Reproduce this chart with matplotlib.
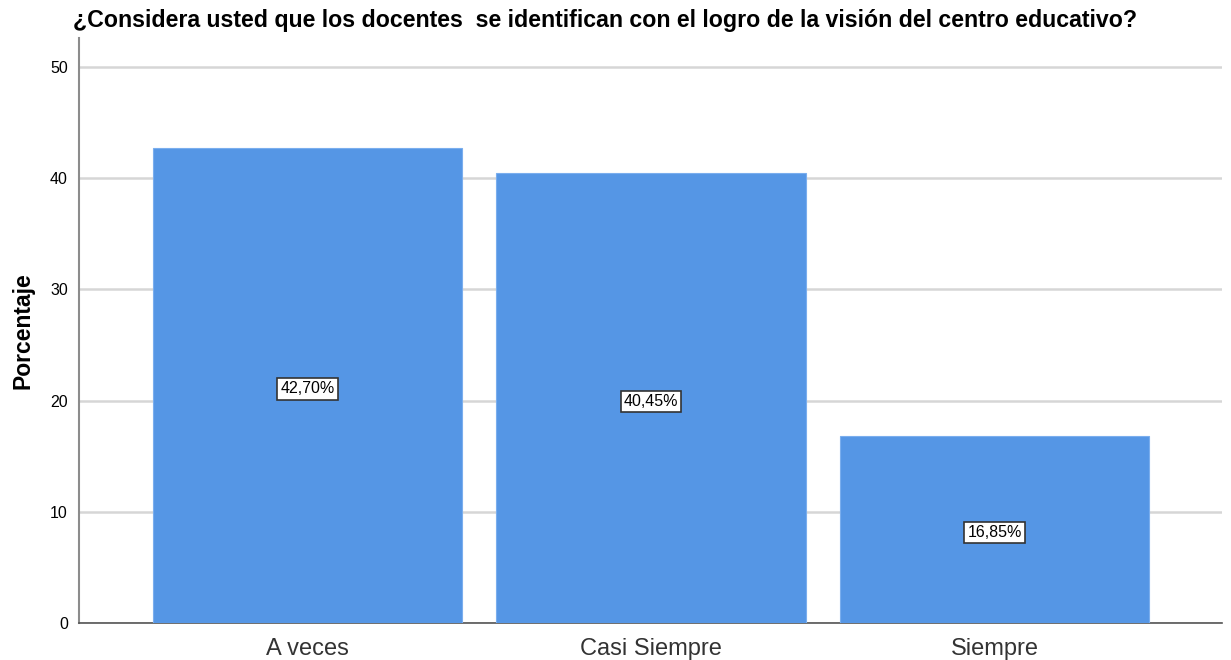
import matplotlib.pyplot as plt

plt.rcParams['font.family'] = ['Liberation Sans', 'DejaVu Sans']

categorias = ['A veces', 'Casi Siempre', 'Siempre']
porcentajes = [42.70, 40.45, 16.85]
etiquetas = ['42,70%', '40,45%', '16,85%']
yticks = [0, 10, 20, 30, 40, 50]

fig = plt.figure(figsize=(12.31, 6.6), dpi=100)
ax = fig.add_axes([79 / 1231, 1 - 623 / 660, (1222 - 79) / 1231, (623 - 38) / 660])

x = list(range(len(categorias)))
ax.bar(x, porcentajes, width=0.9, color='#5596e5', edgecolor='#7aaeee', linewidth=0.8, zorder=3)

for xi, v, lab in zip(x, porcentajes, etiquetas):
    ax.text(xi, v / 2 - 0.3, lab, ha='center', va='center', fontsize=11.5, zorder=4,
            bbox=dict(boxstyle='square,pad=0.2', fc='white', ec='#333333', lw=1.2))

ax.set_xlim(-0.665, 2.662)
ax.set_ylim(0, 52.6)
ax.set_yticks(yticks)
ax.set_xticks(x)
ax.set_xticklabels(categorias, fontsize=17, color='#333333')
ax.tick_params(axis='y', labelsize=11.5, length=0, pad=8)
ax.tick_params(axis='x', length=0, pad=11)
ax.yaxis.grid(True, color='#d6d6d6', linewidth=1.8, zorder=0)
ax.set_axisbelow(True)

for s in ['top', 'right']:
    ax.spines[s].set_visible(False)
ax.spines['left'].set_color('#8c8c8c')
ax.spines['left'].set_linewidth(1.5)
ax.spines['bottom'].set_color('#555555')
ax.spines['bottom'].set_linewidth(1.2)

ax.set_ylabel('Porcentaje', fontsize=16.5, fontweight='bold', labelpad=11)

fig.text(73 / 1231, 1 - 20 / 660,
         '¿Considera usted que los docentes  se identifican con el logro de la visión del centro educativo?',
         fontsize=16.7, fontweight='bold', ha='left', va='center')

fig.savefig('out.png', dpi=100)
